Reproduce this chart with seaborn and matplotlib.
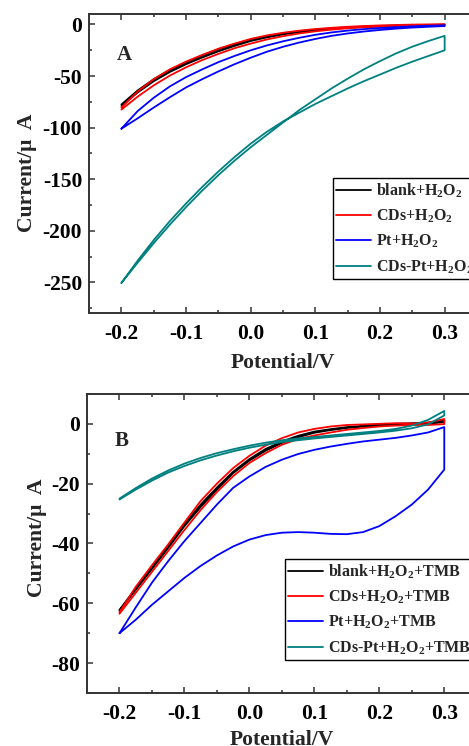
import matplotlib
matplotlib.use("Agg")
import matplotlib.pyplot as plt
import seaborn as sns
import pandas as pd
from matplotlib.ticker import MultipleLocator

# --- data (two sweep branches per curve, 25 mV steps) ---
potential = [-0.2, -0.175, -0.15, -0.125, -0.1, -0.075, -0.05, -0.025, 0.0, 0.025, 0.05,
             0.075, 0.1, 0.125, 0.15, 0.175, 0.2, 0.225, 0.25, 0.275, 0.3]

# panel A: H2O2 only
a_labels = ["blank+H$_2$O$_2$", "CDs+H$_2$O$_2$", "Pt+H$_2$O$_2$", "CDs-Pt+H$_2$O$_2$"]
a_blank_1 = [-77.5, -64, -53, -44, -36.5, -30, -24, -19, -14.5, -11.2, -8.6,
             -6.6, -5, -3.8, -2.8, -2, -1.4, -1, -0.6, -0.4, -0.2]
a_blank_2 = [-79, -66, -55, -46, -38.5, -32, -26, -20.8, -16, -12.5, -9.6,
             -7.4, -5.6, -4.2, -3.1, -2.3, -1.7, -1.2, -0.8, -0.5, -0.3]
a_cds_1 = [-80.5, -65, -53, -43.5, -36, -29.5, -23.5, -18.5, -14, -10.6, -8,
           -6, -4.4, -3.2, -2.2, -1.5, -0.9, -0.5, -0.1, 0.1, 0.3]
a_cds_2 = [-82.5, -70, -59, -49.5, -41.5, -34.5, -28.5, -23, -18.5, -14.5, -11.3,
           -8.7, -6.6, -5, -3.7, -2.7, -2, -1.4, -1, -0.7, -0.5]
a_pt_1 = [-101, -84, -71, -60, -51, -43.5, -36.5, -30.5, -25, -20.3, -16.3,
          -12.9, -10, -7.7, -5.9, -4.5, -3.4, -2.5, -1.8, -1.2, -0.8]
a_pt_2 = [-101, -91, -80.5, -70.5, -61, -53, -45.5, -38.5, -32.2, -26.4, -21.6,
          -17.5, -14, -11, -8.7, -6.8, -5.3, -4, -3, -2.2, -1.5]
a_cdspt_1 = [-250.5, -231, -212, -194, -177, -161, -146, -132, -119, -107, -95,
             -83, -72.5, -62, -52.5, -43.5, -35.5, -28, -21.5, -16, -11]
a_cdspt_2 = [-250.5, -229, -209, -190.5, -173.5, -157.5, -142.5, -128.5, -115.5, -104, -94,
             -85.5, -77, -69.5, -62, -55, -48.5, -42, -36, -30.5, -25]

# panel B: H2O2 + TMB
b_labels = ["blank+H$_2$O$_2$+TMB", "CDs+H$_2$O$_2$+TMB", "Pt+H$_2$O$_2$+TMB",
            "CDs-Pt+H$_2$O$_2$+TMB"]
b_blank_1 = [-62.2, -55, -48, -41, -33.5, -27, -21.3, -16, -11.8, -8.4, -5.9,
             -4, -2.6, -1.8, -1.1, -0.7, -0.3, 0, 0.2, 0.4, 1.2]
b_blank_2 = [-62.5, -55.5, -48.5, -41.5, -34.2, -27.8, -22, -16.5, -12.3, -9, -6.4,
             -4.5, -3, -2.1, -1.4, -0.9, -0.5, -0.3, -0.1, 0, 0.6]
b_cds_1 = [-63, -54.5, -47.3, -40.3, -33, -25.8, -20, -14.8, -10.7, -7.3, -4.8,
           -2.9, -1.7, -0.9, -0.4, -0.2, 0, 0.2, 0.1, 0.4, 1.6]
b_cds_2 = [-63.5, -56.5, -49.5, -42.5, -35.5, -28.8, -22.8, -17.5, -13.1, -9.8, -7,
           -5.1, -3.9, -2.9, -2, -1.4, -0.9, -0.6, -0.4, -0.4, -0.1]
b_pt_1 = [-70, -61.4, -53.1, -45.9, -39.2, -33.1, -27, -21.4, -17.6, -14.4, -12,
          -10.1, -8.7, -7.6, -6.7, -5.9, -5.3, -4.7, -3.9, -2.9, -1.1]
b_pt_2 = [-70, -65.5, -60.5, -56, -51.5, -47.5, -44, -41, -38.7, -37.2, -36.4,
          -36.2, -36.4, -36.8, -36.9, -36.2, -34.2, -30.9, -27, -22, -15.3]
b_cdspt_1 = [-25, -21.5, -18.3, -15.6, -13.3, -11.4, -9.8, -8.5, -7.3, -6.3, -5.5,
             -4.9, -4.4, -3.9, -3.4, -2.9, -2.4, -1.7, -0.6, 1.3, 4.3]
b_cdspt_2 = [-25.3, -22, -19, -16.3, -14.1, -12.2, -10.6, -9.2, -8, -7, -6.1,
             -5.5, -4.9, -4.4, -3.9, -3.4, -2.9, -2.3, -1.5, -0.2, 2.8]

colors = ["black", "#ff0000", "#0000ff", "#008080"]


def loop_frame(labels, branches):
    rows = []
    for lab, (fwd, rev) in zip(labels, branches):
        xs = potential + potential[::-1]
        ys = fwd + rev[::-1]
        for x, y in zip(xs, ys):
            rows.append({"V": x, "I": y, "series": lab})
    return pd.DataFrame(rows)


df_a = loop_frame(a_labels, [(a_blank_1, a_blank_2), (a_cds_1, a_cds_2),
                             (a_pt_1, a_pt_2), (a_cdspt_1, a_cdspt_2)])
df_b = loop_frame(b_labels, [(b_blank_1, b_blank_2), (b_cds_1, b_cds_2),
                             (b_pt_1, b_pt_2), (b_cdspt_1, b_cdspt_2)])

sns.set_style("ticks")
plt.rcParams["font.family"] = ["Liberation Serif", "DejaVu Serif"]
plt.rcParams["font.weight"] = "bold"
plt.rcParams["axes.labelweight"] = "bold"
plt.rcParams["axes.unicode_minus"] = False
plt.rcParams["mathtext.fontset"] = "custom"
plt.rcParams["mathtext.rm"] = "Liberation Serif:bold"
plt.rcParams["mathtext.it"] = "Liberation Serif:bold"
plt.rcParams["mathtext.bf"] = "Liberation Serif:bold"

fig = plt.figure(figsize=(4.69, 7.46), dpi=100)
ax_a = fig.add_axes([0.190, 0.580, 0.827, 0.401])
ax_b = fig.add_axes([0.1855, 0.071, 0.831, 0.401])

# ax, data, labels, ylim, major, minor, tag, tag y, legend anchor, ylabel (x, y), xlabel y
panels = [
    (ax_a, df_a, a_labels, (-280, 10), 50, 25, "A", 0.862, (0.628, 0.452), (-0.134, 0.47), -0.134),
    (ax_b, df_b, b_labels, (-90, 10), 20, 10, "B", 0.843, (0.508, 0.448), (-0.102, 0.52), -0.124),
]

for ax, df, labels, ylim, ymaj, ymin, tag, tag_y, leg_pos, ylab_xy, xlab_y in panels:
    sns.lineplot(data=df, x="V", y="I", hue="series", hue_order=labels,
                 palette=colors, sort=False, estimator=None, linewidth=1.3,
                 ax=ax, legend=False)
    ax.set_xlim(-0.25, 0.35)
    ax.set_ylim(*ylim)
    ax.xaxis.set_major_locator(MultipleLocator(0.1))
    ax.xaxis.set_minor_locator(MultipleLocator(0.05))
    ax.yaxis.set_major_locator(MultipleLocator(ymaj))
    ax.yaxis.set_minor_locator(MultipleLocator(ymin))
    ax.tick_params(which="both", direction="in", top=True, right=True,
                   labelsize=15.5, width=1.1, colors="#333333", labelcolor="black")
    ax.tick_params(which="major", length=4.5)
    ax.tick_params(which="minor", length=2.5)
    ax.tick_params(axis="x", which="major", pad=8)
    ax.tick_params(axis="y", which="major", pad=5)
    for s in ax.spines.values():
        s.set_linewidth(1.4)
        s.set_color("#333333")
    ax.set_xlabel("Potential/V", fontsize=15.6)
    ax.set_ylabel("Current/\u03bc  A", fontsize=15.6)
    ax.xaxis.set_label_coords(0.5, xlab_y)
    ax.yaxis.set_label_coords(*ylab_xy)
    ax.text(0.09, tag_y, tag, transform=ax.transAxes,
            fontsize=15, fontweight="bold", ha="center", va="center")
    handles = [plt.Line2D([], [], color=c, linewidth=1.3) for c in colors]
    leg = ax.legend(handles, labels, loc="upper left", bbox_to_anchor=leg_pos,
                    fontsize=11.5, frameon=True, fancybox=False, framealpha=1,
                    edgecolor="black", handlelength=2.2, handletextpad=0.3,
                    labelspacing=0.5, borderaxespad=0, borderpad=0.2)
    leg.get_frame().set_linewidth(1.0)

fig.savefig("out.png", dpi=100)
